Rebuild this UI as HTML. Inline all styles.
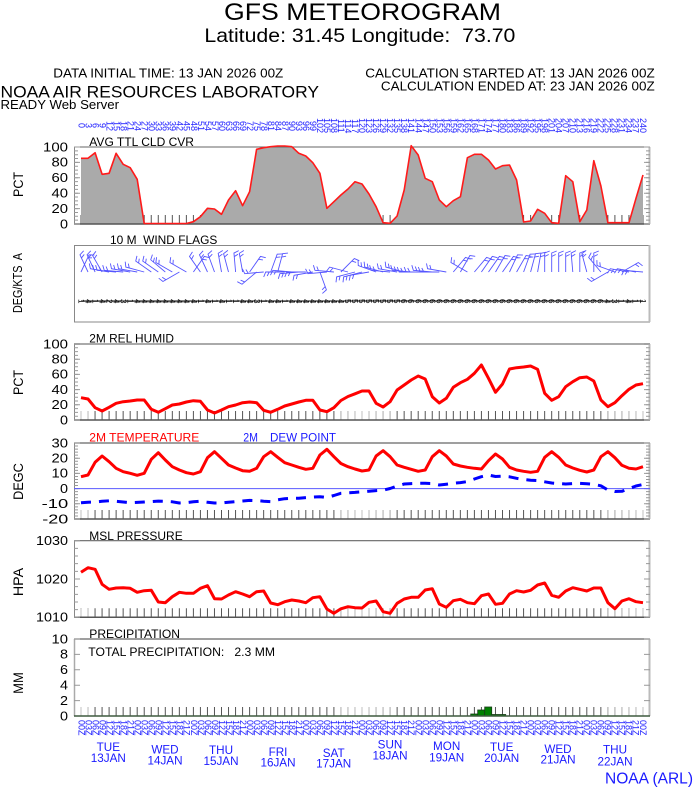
<!DOCTYPE html>
<html><head><meta charset="utf-8"><style>
html,body{margin:0;padding:0;background:#fff}
body{width:694px;height:788px;overflow:hidden;position:relative;font-family:"Liberation Sans",sans-serif}
svg{position:absolute;left:0;top:0}
.row{position:absolute;left:77.49px;display:flex}
.row span{display:block;width:7.025px;writing-mode:vertical-rl;white-space:nowrap;line-height:7px}
.top span{height:20px;text-align:center;font-size:9px;color:#2222ff}
.bot span{height:18px;text-align:start;font-size:9px;color:#2222ff}
.blk span{height:10px;text-align:center;font-size:8px;color:#000}
</style></head><body>
<svg width="694" height="788" viewBox="0 0 694 788" xmlns="http://www.w3.org/2000/svg" font-family="Liberation Sans, sans-serif">
<defs>
<path id="wb" d="M0 0V-19l5-2M0-15.5l4-2" fill="none" stroke="#5555ff" stroke-width="0.9"/>
<path id="wb2" d="M0 0V-19l-5-2M0-15.5l-4-2" fill="none" stroke="#5555ff" stroke-width="0.9"/>
</defs>

<!-- HEADER -->
<text x="224" y="20" font-size="24" textLength="277" lengthAdjust="spacingAndGlyphs">GFS METEOROGRAM</text>
<text x="204.4" y="42" font-size="19.5" textLength="311" lengthAdjust="spacingAndGlyphs" xml:space="preserve" style="white-space:pre">Latitude: 31.45 Longitude:  73.70</text>
<text x="53.3" y="77.3" font-size="12.5" textLength="230" lengthAdjust="spacingAndGlyphs">DATA INITIAL TIME: 13 JAN 2026 00Z</text>
<text x="365.3" y="77.3" font-size="12.5" textLength="289.4" lengthAdjust="spacingAndGlyphs">CALCULATION STARTED AT: 13 JAN 2026 00Z</text>
<text x="380.9" y="90.7" font-size="12.5" textLength="273.8" lengthAdjust="spacingAndGlyphs">CALCULATION ENDED AT: 23 JAN 2026 00Z</text>
<text x="0.5" y="97.3" font-size="17" textLength="318.5" lengthAdjust="spacingAndGlyphs">NOAA AIR RESOURCES LABORATORY</text>
<text x="0.5" y="109" font-size="12.5" textLength="118.5" lengthAdjust="spacingAndGlyphs">READY Web Server</text>

<!-- Y AXIS TITLES -->
<g font-size="14" text-anchor="middle">
<text transform="translate(23 184.5) rotate(-90)" textLength="25" lengthAdjust="spacingAndGlyphs">PCT</text>
<text transform="translate(22 283) rotate(-90)" font-size="12.5" textLength="60" lengthAdjust="spacingAndGlyphs" xml:space="preserve" style="white-space:pre">DEG/KTS  A</text>
<text transform="translate(23 382.5) rotate(-90)" textLength="25" lengthAdjust="spacingAndGlyphs">PCT</text>
<text transform="translate(23 481.5) rotate(-90)" textLength="36.7" lengthAdjust="spacingAndGlyphs">DEGC</text>
<text transform="translate(23 582) rotate(-90)" textLength="28.3" lengthAdjust="spacingAndGlyphs">HPA</text>
<text transform="translate(23 683) rotate(-90)" textLength="21.7" lengthAdjust="spacingAndGlyphs">MM</text>
</g>

<!-- Y TICK LABELS -->
<g font-size="12.5">
<text x="43" y="151.3" textLength="25" lengthAdjust="spacingAndGlyphs">100</text>
<text x="51.5" y="166.7" textLength="16.5" lengthAdjust="spacingAndGlyphs">80</text>
<text x="51.5" y="182.1" textLength="16.5" lengthAdjust="spacingAndGlyphs">60</text>
<text x="51.5" y="197.5" textLength="16.5" lengthAdjust="spacingAndGlyphs">40</text>
<text x="51.5" y="212.9" textLength="16.5" lengthAdjust="spacingAndGlyphs">20</text>
<text x="60" y="228.3" textLength="8" lengthAdjust="spacingAndGlyphs">0</text>

<text x="43" y="348.3" textLength="25" lengthAdjust="spacingAndGlyphs">100</text>
<text x="51.5" y="363.5" textLength="16.5" lengthAdjust="spacingAndGlyphs">80</text>
<text x="51.5" y="378.7" textLength="16.5" lengthAdjust="spacingAndGlyphs">60</text>
<text x="51.5" y="393.9" textLength="16.5" lengthAdjust="spacingAndGlyphs">40</text>
<text x="51.5" y="409.1" textLength="16.5" lengthAdjust="spacingAndGlyphs">20</text>
<text x="60" y="424.3" textLength="8" lengthAdjust="spacingAndGlyphs">0</text>

<text x="51.5" y="447.3" textLength="16.5" lengthAdjust="spacingAndGlyphs">30</text>
<text x="51.5" y="462.5" textLength="16.5" lengthAdjust="spacingAndGlyphs">20</text>
<text x="51.5" y="477.7" textLength="16.5" lengthAdjust="spacingAndGlyphs">10</text>
<text x="60" y="492.9" textLength="8" lengthAdjust="spacingAndGlyphs">0</text>
<text x="41.7" y="508.1" textLength="26.6" lengthAdjust="spacingAndGlyphs">-10</text>
<text x="42.3" y="523.3" textLength="26" lengthAdjust="spacingAndGlyphs">-20</text>

<text x="36" y="545" textLength="32" lengthAdjust="spacingAndGlyphs">1030</text>
<text x="36" y="583.3" textLength="32" lengthAdjust="spacingAndGlyphs">1020</text>
<text x="36" y="621.6" textLength="32" lengthAdjust="spacingAndGlyphs">1010</text>

<text x="51.5" y="643.3" textLength="16.5" lengthAdjust="spacingAndGlyphs">10</text>
<text x="60" y="658.7" textLength="8" lengthAdjust="spacingAndGlyphs">8</text>
<text x="60" y="674.1" textLength="8" lengthAdjust="spacingAndGlyphs">6</text>
<text x="60" y="689.5" textLength="8" lengthAdjust="spacingAndGlyphs">4</text>
<text x="60" y="704.9" textLength="8" lengthAdjust="spacingAndGlyphs">2</text>
<text x="60" y="720.3" textLength="8" lengthAdjust="spacingAndGlyphs">0</text>
</g>

<!-- ============ CLOUD PANEL ============ -->
<g fill="none">
<line x1="80.5" y1="219.5" x2="643.5" y2="219.5" stroke="#555" stroke-width="9" stroke-dasharray="1 6.025"/>
</g>
<polygon fill="#aaaaaa" points="81,224 81,158.3 88,158.3 95.1,152.7 102.1,174.3 109.1,173.3 116.1,153.3 123.2,164.3 130.2,167.7 137.2,179.3 144.2,223.5 151.3,223.5 158.3,223.5 165.3,223.5 172.3,223.5 179.4,223.5 186.4,223.5 193.4,221.7 200.4,216.7 207.5,208.3 214.5,209 221.5,214.3 228.5,200 235.6,190.7 242.6,205.7 249.6,191.7 256.6,149.3 263.7,147.7 270.7,146.7 277.7,146 284.7,146 291.8,146.7 298.8,153.3 305.8,156 312.8,162.7 319.9,173.3 326.9,208.3 333.9,201.7 340.9,195 348,189 355,181.7 362,184 369,194 376.1,206.7 383.1,222.7 390.1,223.3 397.1,216 404.2,190 411.2,145.7 418.2,155 425.2,178.3 432.3,181.7 439.3,200 446.3,206.7 453.3,200.7 460.4,196.7 467.4,157.7 474.4,154.3 481.4,154.3 488.5,160 495.5,169 502.5,165.7 509.5,165 516.6,180 523.6,222 530.6,221 537.6,209.3 544.7,213.3 551.7,222.7 558.7,223.3 565.7,175.7 572.8,181.7 579.8,221.7 586.8,210 593.8,160.7 600.9,186 607.9,222.7 614.9,222.7 621.9,222.7 629,222.7 636,198.3 643,175 643,224"/>
<g fill="none">
<line x1="74" y1="147" x2="650" y2="147" stroke="#666" stroke-width="1"/>
<line x1="74" y1="224" x2="650" y2="224" stroke="#555" stroke-width="1.5"/>
<line x1="74.5" y1="147" x2="74.5" y2="224" stroke="#888"/>
<line x1="76" y1="146.5" x2="76" y2="224.5" stroke="#999" stroke-width="4" stroke-dasharray="1 2.85"/>
<line x1="77" y1="146.5" x2="77" y2="224.5" stroke="#999" stroke-width="6" stroke-dasharray="1 14.4"/>
<line x1="649.5" y1="147" x2="649.5" y2="224" stroke="#bbb" stroke-width="2"/>
<line x1="648" y1="146.5" x2="648" y2="224.5" stroke="#999" stroke-width="4" stroke-dasharray="1 2.85"/>
<line x1="647" y1="146.5" x2="647" y2="224.5" stroke="#999" stroke-width="6" stroke-dasharray="1 14.4"/>
<polyline stroke="#ff1a1a" stroke-width="1.6" stroke-linejoin="round" points="81,158.3 88,158.3 95.1,152.7 102.1,174.3 109.1,173.3 116.1,153.3 123.2,164.3 130.2,167.7 137.2,179.3 144.2,223.5 151.3,223.5 158.3,223.5 165.3,223.5 172.3,223.5 179.4,223.5 186.4,223.5 193.4,221.7 200.4,216.7 207.5,208.3 214.5,209 221.5,214.3 228.5,200 235.6,190.7 242.6,205.7 249.6,191.7 256.6,149.3 263.7,147.7 270.7,146.7 277.7,146 284.7,146 291.8,146.7 298.8,153.3 305.8,156 312.8,162.7 319.9,173.3 326.9,208.3 333.9,201.7 340.9,195 348,189 355,181.7 362,184 369,194 376.1,206.7 383.1,222.7 390.1,223.3 397.1,216 404.2,190 411.2,145.7 418.2,155 425.2,178.3 432.3,181.7 439.3,200 446.3,206.7 453.3,200.7 460.4,196.7 467.4,157.7 474.4,154.3 481.4,154.3 488.5,160 495.5,169 502.5,165.7 509.5,165 516.6,180 523.6,222 530.6,221 537.6,209.3 544.7,213.3 551.7,222.7 558.7,223.3 565.7,175.7 572.8,181.7 579.8,221.7 586.8,210 593.8,160.7 600.9,186 607.9,222.7 614.9,222.7 621.9,222.7 629,222.7 636,198.3 643,175"/>
</g>
<text x="89.3" y="146" font-size="12" textLength="104.7" lengthAdjust="spacingAndGlyphs">AVG TTL CLD CVR</text>

<!-- ============ WIND PANEL ============ -->
<text x="110" y="244" font-size="12" textLength="107.3" lengthAdjust="spacingAndGlyphs" xml:space="preserve" style="white-space:pre">10 M  WIND FLAGS</text>
<rect x="74.5" y="245.5" width="575" height="76.5" fill="none" stroke="#888" stroke-width="1"/>
<line x1="649.5" y1="245" x2="649.5" y2="322" stroke="#bbb" stroke-width="2"/>
<line x1="81" y1="301" x2="643" y2="301" stroke="#000" stroke-width="1"/>
<g>
<use href="#wb" transform="translate(81 272) rotate(25)"/>
<use href="#wb" transform="translate(88 272) rotate(-25)"/>
<use href="#wb" transform="translate(95.1 272) rotate(-25)"/>
<use href="#wb" transform="translate(102.1 272) rotate(-30)"/>
<use href="#wb" transform="translate(109.1 272) rotate(-80)"/>
<use href="#wb" transform="translate(116.1 272) rotate(-85)"/>
<use href="#wb" transform="translate(123.2 272) rotate(-85)"/>
<use href="#wb" transform="translate(130.2 272) rotate(-80)"/>
<use href="#wb" transform="translate(137.2 272) rotate(-80)"/>
<use href="#wb" transform="translate(144.2 272) rotate(-75)"/>
<use href="#wb" transform="translate(151.3 272) rotate(-55)"/>
<use href="#wb" transform="translate(158.3 272) rotate(-55)"/>
<use href="#wb" transform="translate(165.3 272) rotate(-50)"/>
<use href="#wb" transform="translate(172.3 272) rotate(-60)"/>
<use href="#wb" transform="translate(179.4 272) rotate(-120)"/>
<use href="#wb" transform="translate(186.4 272) rotate(-60)"/>
<use href="#wb" transform="translate(193.4 272) rotate(35)"/>
<use href="#wb" transform="translate(200.4 272) rotate(-35)"/>
<use href="#wb" transform="translate(207.5 272) rotate(-25)"/>
<use href="#wb" transform="translate(214.5 272) rotate(-20)"/>
<use href="#wb" transform="translate(221.5 272) rotate(-10)"/>
<use href="#wb" transform="translate(228.5 272) rotate(-15)"/>
<use href="#wb" transform="translate(235.6 272) rotate(-5)"/>
<use href="#wb" transform="translate(242.6 272) rotate(-10)"/>
<use href="#wb" transform="translate(249.6 272) rotate(35)"/>
<use href="#wb" transform="translate(256.6 272) rotate(-130)"/>
<use href="#wb" transform="translate(263.7 272) rotate(-95)"/>
<use href="#wb" transform="translate(270.7 272) rotate(20)"/>
<use href="#wb" transform="translate(277.7 272) rotate(15)"/>
<use href="#wb2" transform="translate(284.7 272) rotate(-90)"/>
<use href="#wb2" transform="translate(291.8 272) rotate(-85)"/>
<use href="#wb2" transform="translate(298.8 272) rotate(-95)"/>
<use href="#wb2" transform="translate(305.8 272) rotate(-90)"/>
<use href="#wb2" transform="translate(312.8 272) rotate(-100)"/>
<use href="#wb" transform="translate(319.9 272) rotate(160)"/>
<use href="#wb" transform="translate(326.9 272) rotate(-95)"/>
<use href="#wb" transform="translate(333.9 272) rotate(-85)"/>
<use href="#wb" transform="translate(340.9 272) rotate(45)"/>
<use href="#wb2" transform="translate(348 272) rotate(-75)"/>
<use href="#wb2" transform="translate(355 272) rotate(-105)"/>
<use href="#wb2" transform="translate(362 272) rotate(-105)"/>
<use href="#wb2" transform="translate(369 272) rotate(-100)"/>
<use href="#wb" transform="translate(376.1 272) rotate(-70)"/>
<use href="#wb" transform="translate(383.1 272) rotate(-75)"/>
<use href="#wb" transform="translate(390.1 272) rotate(-85)"/>
<use href="#wb" transform="translate(397.1 272) rotate(-80)"/>
<use href="#wb" transform="translate(404.2 272) rotate(-75)"/>
<use href="#wb" transform="translate(411.2 272) rotate(-85)"/>
<use href="#wb" transform="translate(418.2 272) rotate(-90)"/>
<use href="#wb" transform="translate(425.2 272) rotate(-90)"/>
<use href="#wb" transform="translate(432.3 272) rotate(-85)"/>
<use href="#wb" transform="translate(439.3 272) rotate(-90)"/>
<use href="#wb" transform="translate(446.3 272) rotate(-80)"/>
<use href="#wb" transform="translate(453.3 272) rotate(40)"/>
<use href="#wb" transform="translate(460.4 272) rotate(30)"/>
<use href="#wb" transform="translate(467.4 272) rotate(-60)"/>
<use href="#wb" transform="translate(474.4 272) rotate(40)"/>
<use href="#wb" transform="translate(481.4 272) rotate(35)"/>
<use href="#wb" transform="translate(488.5 272) rotate(35)"/>
<use href="#wb" transform="translate(495.5 272) rotate(30)"/>
<use href="#wb" transform="translate(502.5 272) rotate(35)"/>
<use href="#wb" transform="translate(509.5 272) rotate(25)"/>
<use href="#wb" transform="translate(516.6 272) rotate(30)"/>
<use href="#wb" transform="translate(523.6 272) rotate(20)"/>
<use href="#wb" transform="translate(530.6 272) rotate(15)"/>
<use href="#wb" transform="translate(537.6 272) rotate(10)"/>
<use href="#wb" transform="translate(544.7 272) rotate(0)"/>
<use href="#wb" transform="translate(551.7 272) rotate(0)"/>
<use href="#wb" transform="translate(558.7 272) rotate(0)"/>
<use href="#wb" transform="translate(565.7 272) rotate(0)"/>
<use href="#wb" transform="translate(572.8 272) rotate(-5)"/>
<use href="#wb" transform="translate(579.8 272) rotate(0)"/>
<use href="#wb" transform="translate(586.8 272) rotate(-15)"/>
<use href="#wb" transform="translate(593.8 272) rotate(0)"/>
<use href="#wb" transform="translate(600.9 272) rotate(-40)"/>
<use href="#wb" transform="translate(607.9 272) rotate(-120)"/>
<use href="#wb" transform="translate(614.9 272) rotate(-70)"/>
<use href="#wb" transform="translate(621.9 272) rotate(60)"/>
<use href="#wb2" transform="translate(629 272) rotate(-80)"/>
<use href="#wb2" transform="translate(636 272) rotate(-80)"/>
<use href="#wb2" transform="translate(643 272) rotate(-85)"/>
</g>

<!-- ============ RH PANEL ============ -->
<text x="89.3" y="342.5" font-size="12" textLength="84.7" lengthAdjust="spacingAndGlyphs">2M REL HUMID</text>
<g fill="none">
<line x1="80.5" y1="415.5" x2="643.5" y2="415.5" stroke="#555" stroke-width="9" stroke-dasharray="1 6.025"/>
<line x1="80.5" y1="415.5" x2="89" y2="415.5" stroke="#c0c0c0" stroke-width="9" stroke-dasharray="1 6.025"/>
<line x1="340.43" y1="415.5" x2="391" y2="415.5" stroke="#c0c0c0" stroke-width="9" stroke-dasharray="1 6.025"/>
<line x1="607.38" y1="415.5" x2="643.5" y2="415.5" stroke="#c0c0c0" stroke-width="9" stroke-dasharray="1 6.025"/>
<line x1="74" y1="344" x2="650" y2="344" stroke="#aaa" stroke-width="2"/>
<line x1="74" y1="420" x2="650" y2="420" stroke="#555" stroke-width="1.5"/>
<line x1="74.5" y1="344" x2="74.5" y2="420" stroke="#888"/>
<line x1="76" y1="343.5" x2="76" y2="420.5" stroke="#999" stroke-width="4" stroke-dasharray="1 2.8"/>
<line x1="77" y1="343.5" x2="77" y2="420.5" stroke="#999" stroke-width="6" stroke-dasharray="1 14.2"/>
<line x1="649.5" y1="344" x2="649.5" y2="420" stroke="#bbb" stroke-width="2"/>
<line x1="648" y1="343.5" x2="648" y2="420.5" stroke="#999" stroke-width="4" stroke-dasharray="1 2.8"/>
<line x1="647" y1="343.5" x2="647" y2="420.5" stroke="#999" stroke-width="6" stroke-dasharray="1 14.2"/>
<polyline stroke="#ff0000" stroke-width="3" stroke-linejoin="round" points="81,397.7 88,399 95.1,407.7 102.1,411 109.1,407.3 116.1,403.3 123.2,401.7 130.2,401 137.2,400 144.2,400 151.3,409.3 158.3,412.3 165.3,408.7 172.3,405 179.4,404 186.4,402 193.4,400.7 200.4,401.3 207.5,410 214.5,413 221.5,410 228.5,406.7 235.6,405 242.6,402.7 249.6,402 256.6,402.7 263.7,410.3 270.7,412.3 277.7,409.3 284.7,406 291.8,404 298.8,402 305.8,400.3 312.8,400.3 319.9,410 326.9,411.7 333.9,407.7 340.9,400.5 348,396.5 355,393.8 362,391 369,391 376.1,403.3 383.1,407 390.1,401.7 397.1,390 404.2,385 411.2,380 418.2,376 425.2,379 432.3,396.7 439.3,403 446.3,398.3 453.3,387.3 460.4,382.7 467.4,379.3 474.4,373.3 481.4,365 488.5,378.3 495.5,392.3 502.5,384 509.5,369 516.6,367.7 523.6,367 530.6,366 537.6,369.3 544.7,393.3 551.7,400.3 558.7,396.7 565.7,386.7 572.8,381.7 579.8,377.7 586.8,377 593.8,381 600.9,400 607.9,406.7 614.9,402.7 621.9,395.7 629,389.3 636,385 643,383.7"/>
</g>

<!-- ============ TEMP PANEL ============ -->
<text x="89.3" y="441.5" font-size="12" fill="#ff0000" textLength="110" lengthAdjust="spacingAndGlyphs">2M TEMPERATURE</text>
<text x="243.3" y="441.5" font-size="12" fill="#1a1aff" textLength="14.7" lengthAdjust="spacingAndGlyphs">2M</text>
<text x="270" y="441.5" font-size="12" fill="#1a1aff" textLength="66" lengthAdjust="spacingAndGlyphs">DEW POINT</text>
<g fill="none">
<line x1="80.5" y1="514.5" x2="643.5" y2="514.5" stroke="#555" stroke-width="9" stroke-dasharray="1 6.025"/>
<line x1="80.5" y1="514.5" x2="89" y2="514.5" stroke="#c0c0c0" stroke-width="9" stroke-dasharray="1 6.025"/>
<line x1="340.43" y1="514.5" x2="391" y2="514.5" stroke="#c0c0c0" stroke-width="9" stroke-dasharray="1 6.025"/>
<line x1="607.38" y1="514.5" x2="643.5" y2="514.5" stroke="#c0c0c0" stroke-width="9" stroke-dasharray="1 6.025"/>
<line x1="74" y1="443" x2="650" y2="443" stroke="#666" stroke-width="1.2"/>
<line x1="74" y1="519" x2="650" y2="519" stroke="#555" stroke-width="1.5"/>
<line x1="74.5" y1="443" x2="74.5" y2="519" stroke="#888"/>
<line x1="76" y1="442.5" x2="76" y2="519.5" stroke="#999" stroke-width="4" stroke-dasharray="1 2.04"/>
<line x1="77" y1="442.5" x2="77" y2="519.5" stroke="#999" stroke-width="6" stroke-dasharray="1 14.2"/>
<line x1="649.5" y1="443" x2="649.5" y2="519" stroke="#bbb" stroke-width="2"/>
<line x1="648" y1="442.5" x2="648" y2="519.5" stroke="#999" stroke-width="4" stroke-dasharray="1 2.04"/>
<line x1="647" y1="442.5" x2="647" y2="519.5" stroke="#999" stroke-width="6" stroke-dasharray="1 14.2"/>
<line x1="74" y1="488.6" x2="650" y2="488.6" stroke="#5a5aff" stroke-width="1"/>
<polyline stroke="#ff0000" stroke-width="3" stroke-linejoin="round" points="81,476.7 88,475 95.1,462.3 102.1,456 109.1,461.7 116.1,468.3 123.2,471.7 130.2,473.3 137.2,475.3 144.2,473.3 151.3,459.3 158.3,452.7 165.3,460 172.3,466.7 179.4,470 186.4,472.7 193.4,474 200.4,471.7 207.5,457.7 214.5,451.7 221.5,458.3 228.5,465 235.6,468 242.6,470.7 249.6,471.3 256.6,468.3 263.7,456.7 270.7,451.7 277.7,457.3 284.7,462.7 291.8,465 298.8,467.3 305.8,469.3 312.8,468.3 319.9,455 326.9,449.3 333.9,456.7 340.9,463.5 348,466.7 355,469 362,471 369,470 376.1,456 383.1,450.7 390.1,456.7 397.1,465 404.2,467.3 411.2,469.3 418.2,471.3 425.2,470 432.3,456.7 439.3,450.7 446.3,456 453.3,464 460.4,466 467.4,467.3 474.4,468.3 481.4,469 488.5,460.7 495.5,454 502.5,459 509.5,467.3 516.6,470 523.6,471.3 530.6,472.3 537.6,471.3 544.7,457.3 551.7,451.7 558.7,457.3 565.7,465 572.8,468 579.8,470.3 586.8,472 593.8,470 600.9,456.7 607.9,451.7 614.9,457.7 621.9,465.3 629,468.3 636,469 643,466.7"/>
<polyline stroke="#0000ff" stroke-width="3" stroke-dasharray="10 8" stroke-linejoin="round" points="81,502.7 88,502.2 95.1,502 102.1,501.3 109.1,500.8 116.1,501.3 123.2,502 130.2,502.7 137.2,502.4 144.2,502 151.3,501.6 158.3,501.1 165.3,501.3 172.3,501.8 179.4,503 186.4,502.6 193.4,501.8 200.4,501.3 207.5,502.3 214.5,503 221.5,503 228.5,502.2 235.6,501.6 242.6,501 249.6,500.4 256.6,500.6 263.7,501.2 270.7,501.6 277.7,499.8 284.7,498.7 291.8,498.3 298.8,498.3 305.8,497.6 312.8,497.1 319.9,496.7 326.9,497.5 333.9,495.5 340.9,493.3 348,492.8 355,492.4 362,491.8 369,491.2 376.1,490.6 383.1,490.2 390.1,488.5 397.1,486 404.2,484 411.2,483.6 418.2,483.3 425.2,483.3 432.3,483.5 439.3,485 446.3,484.2 453.3,483.3 460.4,482.6 467.4,481.6 474.4,479 481.4,476.7 488.5,475 495.5,476.5 502.5,476.2 509.5,476.8 516.6,478.3 523.6,479.5 530.6,480.2 537.6,480.6 544.7,481.8 551.7,483 558.7,483.6 565.7,484 572.8,483.6 579.8,483.3 586.8,483.7 593.8,484.3 600.9,485.8 607.9,490 614.9,491.5 621.9,491.3 629,488.6 636,486 643,484.5"/>
</g>

<!-- ============ PRESSURE PANEL ============ -->
<text x="89.3" y="540" font-size="12" textLength="93.4" lengthAdjust="spacingAndGlyphs">MSL PRESSURE</text>
<g fill="none">
<line x1="80.5" y1="612.8" x2="643.5" y2="612.8" stroke="#555" stroke-width="9" stroke-dasharray="1 6.025"/>
<line x1="80.5" y1="612.8" x2="89" y2="612.8" stroke="#c0c0c0" stroke-width="9" stroke-dasharray="1 6.025"/>
<line x1="340.43" y1="612.8" x2="391" y2="612.8" stroke="#c0c0c0" stroke-width="9" stroke-dasharray="1 6.025"/>
<line x1="607.38" y1="612.8" x2="643.5" y2="612.8" stroke="#c0c0c0" stroke-width="9" stroke-dasharray="1 6.025"/>
<line x1="74" y1="540.7" x2="650" y2="540.7" stroke="#666" stroke-width="1.2"/>
<line x1="74" y1="617.3" x2="650" y2="617.3" stroke="#555" stroke-width="1.5"/>
<line x1="74.5" y1="540.7" x2="74.5" y2="617.3" stroke="#888"/>
<line x1="76" y1="540.2" x2="76" y2="617.8" stroke="#999" stroke-width="4" stroke-dasharray="1 6.66"/>
<line x1="77" y1="540.2" x2="77" y2="617.8" stroke="#999" stroke-width="6" stroke-dasharray="1 37.3"/>
<line x1="649.5" y1="540.7" x2="649.5" y2="617.3" stroke="#bbb" stroke-width="2"/>
<line x1="648" y1="540.2" x2="648" y2="617.8" stroke="#999" stroke-width="4" stroke-dasharray="1 6.66"/>
<line x1="647" y1="540.2" x2="647" y2="617.8" stroke="#999" stroke-width="6" stroke-dasharray="1 37.3"/>
<polyline stroke="#ff0000" stroke-width="3" stroke-linejoin="round" points="81,572.3 88,567.7 95.1,569.3 102.1,584.3 109.1,589.3 116.1,588 123.2,587.7 130.2,588.3 137.2,592.3 144.2,590.7 151.3,590.3 158.3,602 165.3,602.7 172.3,596.7 179.4,592.3 186.4,593.3 193.4,593.3 200.4,588.3 207.5,585.7 214.5,598.7 221.5,599 228.5,595 235.6,591.7 242.6,594 249.6,596.7 256.6,591.7 263.7,591 270.7,603 277.7,604.7 284.7,601.7 291.8,600 298.8,601 305.8,602.7 312.8,597.7 319.9,596.7 326.9,609 333.9,613.3 340.9,608.8 348,606.7 355,607.7 362,608 369,602.3 376.1,601 383.1,611.7 390.1,613.3 397.1,603.3 404.2,599 411.2,597.3 418.2,597.3 425.2,590 432.3,588.7 439.3,604 446.3,607.3 453.3,600.7 460.4,599.3 467.4,602.7 474.4,603.7 481.4,595.7 488.5,594 495.5,604.3 502.5,603.3 509.5,594 516.6,590.7 523.6,592 530.6,590.3 537.6,585 544.7,583 551.7,595.3 558.7,597.3 565.7,591 572.8,587.7 579.8,589.3 586.8,591 593.8,588 600.9,588 607.9,602.7 614.9,608.7 621.9,601 629,598.7 636,601.7 643,602.7"/>
</g>

<!-- ============ PRECIP PANEL ============ -->
<text x="89.3" y="638" font-size="12" textLength="90.7" lengthAdjust="spacingAndGlyphs">PRECIPITATION</text>
<text x="88.3" y="656" font-size="12" textLength="186.7" lengthAdjust="spacingAndGlyphs" xml:space="preserve" style="white-space:pre">TOTAL PRECIPITATION:   2.3 MM</text>
<g fill="none">
<line x1="80.5" y1="711.5" x2="643.5" y2="711.5" stroke="#555" stroke-width="9" stroke-dasharray="1 6.025"/>
<line x1="80.5" y1="711.5" x2="89" y2="711.5" stroke="#c0c0c0" stroke-width="9" stroke-dasharray="1 6.025"/>
<line x1="340.43" y1="711.5" x2="391" y2="711.5" stroke="#c0c0c0" stroke-width="9" stroke-dasharray="1 6.025"/>
<line x1="607.38" y1="711.5" x2="643.5" y2="711.5" stroke="#c0c0c0" stroke-width="9" stroke-dasharray="1 6.025"/>
<line x1="74" y1="639" x2="650" y2="639" stroke="#666" stroke-width="1.2"/>
<line x1="74.5" y1="639" x2="74.5" y2="716" stroke="#aaa" stroke-width="1.5"/>
<line x1="77" y1="638.5" x2="77" y2="716.5" stroke="#999" stroke-width="6" stroke-dasharray="1 14.4"/>
<line x1="649.5" y1="639" x2="649.5" y2="716" stroke="#bbb" stroke-width="2"/>
<line x1="647" y1="638.5" x2="647" y2="716.5" stroke="#999" stroke-width="6" stroke-dasharray="1 14.4"/>
</g>
<g fill="#008000" stroke="#1a3a1a" stroke-width="0.8">
<rect x="470.7" y="714" width="7" height="2"/>
<rect x="477.7" y="710" width="7" height="6"/>
<rect x="484.7" y="707" width="7" height="9"/>
<rect x="491.7" y="714.5" width="14" height="1.5"/>
</g>
<line x1="74" y1="716" x2="650" y2="716" stroke="#3f5a3f" stroke-width="1.6"/>

<!-- DAY LABELS -->
<g font-size="11.7" fill="#1a1aff" text-anchor="middle">
<text x="108.3" y="751">TUE</text><text x="108.3" y="762">13JAN</text>
<text x="165" y="753.3">WED</text><text x="165" y="764.3">14JAN</text>
<text x="221" y="754">THU</text><text x="221" y="765">15JAN</text>
<text x="278" y="756">FRI</text><text x="278" y="766.3">16JAN</text>
<text x="333.7" y="757">SAT</text><text x="333.7" y="767.6">17JAN</text>
<text x="390" y="748.6">SUN</text><text x="390" y="759.3">18JAN</text>
<text x="446.7" y="750">MON</text><text x="446.7" y="761.3">19JAN</text>
<text x="501.7" y="751">TUE</text><text x="501.7" y="762">20JAN</text>
<text x="558" y="753">WED</text><text x="558" y="763.6">21JAN</text>
<text x="615" y="753.6">THU</text><text x="615" y="765.3">22JAN</text>
</g>
<text x="605" y="783.5" font-size="15.8" fill="#1a1aff" textLength="88" lengthAdjust="spacingAndGlyphs">NOAA (ARL)</text>
</svg>

<div class="row top" style="top:116px"><span>0</span><span>3</span><span>6</span><span>9</span><span>12</span><span>15</span><span>18</span><span>21</span><span>24</span><span>27</span><span>30</span><span>33</span><span>36</span><span>39</span><span>42</span><span>45</span><span>48</span><span>51</span><span>54</span><span>57</span><span>60</span><span>63</span><span>66</span><span>69</span><span>72</span><span>75</span><span>78</span><span>81</span><span>84</span><span>87</span><span>90</span><span>93</span><span>96</span><span>99</span><span>102</span><span>105</span><span>108</span><span>111</span><span>114</span><span>117</span><span>120</span><span>123</span><span>126</span><span>129</span><span>132</span><span>135</span><span>138</span><span>141</span><span>144</span><span>147</span><span>150</span><span>153</span><span>156</span><span>159</span><span>162</span><span>165</span><span>168</span><span>171</span><span>174</span><span>177</span><span>180</span><span>183</span><span>186</span><span>189</span><span>192</span><span>195</span><span>198</span><span>201</span><span>204</span><span>207</span><span>210</span><span>213</span><span>216</span><span>219</span><span>222</span><span>225</span><span>228</span><span>231</span><span>234</span><span>237</span><span>240</span></div>

<div class="row blk" style="top:296px"><span>1</span><span>4</span><span>1</span><span>4</span><span>2</span><span>4</span><span>3</span><span>1</span><span>4</span><span>4</span><span>4</span><span>4</span><span>4</span><span>4</span><span>4</span><span>4</span><span>4</span><span>1</span><span>4</span><span>1</span><span>4</span><span>1</span><span>1</span><span>4</span><span>4</span><span>3</span><span>1</span><span>4</span><span>4</span><span>1</span><span>4</span><span>4</span><span>4</span><span>4</span><span>4</span><span>4</span><span>4</span><span>4</span><span>5</span><span>5</span><span>5</span><span>5</span><span>5</span><span>5</span><span>5</span><span>5</span><span>6</span><span>6</span><span>6</span><span>6</span><span>6</span><span>6</span><span>6</span><span>6</span><span>6</span><span>6</span><span>6</span><span>6</span><span>6</span><span>6</span><span>6</span><span>6</span><span>6</span><span>6</span><span>6</span><span>6</span><span>6</span><span>6</span><span>6</span><span>6</span><span>6</span><span>6</span><span>6</span><span>6</span><span>6</span><span>4</span><span>3</span><span>1</span><span>4</span><span>1</span><span>1</span></div>

<div class="row bot" style="top:720px"><span>00Z</span><span>03Z</span><span>06Z</span><span>09Z</span><span>12Z</span><span>15Z</span><span>18Z</span><span>21Z</span><span>00Z</span><span>03Z</span><span>06Z</span><span>09Z</span><span>12Z</span><span>15Z</span><span>18Z</span><span>21Z</span><span>00Z</span><span>03Z</span><span>06Z</span><span>09Z</span><span>12Z</span><span>15Z</span><span>18Z</span><span>21Z</span><span>00Z</span><span>03Z</span><span>06Z</span><span>09Z</span><span>12Z</span><span>15Z</span><span>18Z</span><span>21Z</span><span>00Z</span><span>03Z</span><span>06Z</span><span>09Z</span><span>12Z</span><span>15Z</span><span>18Z</span><span>21Z</span><span>00Z</span><span>03Z</span><span>06Z</span><span>09Z</span><span>12Z</span><span>15Z</span><span>18Z</span><span>21Z</span><span>00Z</span><span>03Z</span><span>06Z</span><span>09Z</span><span>12Z</span><span>15Z</span><span>18Z</span><span>21Z</span><span>00Z</span><span>03Z</span><span>06Z</span><span>09Z</span><span>12Z</span><span>15Z</span><span>18Z</span><span>21Z</span><span>00Z</span><span>03Z</span><span>06Z</span><span>09Z</span><span>12Z</span><span>15Z</span><span>18Z</span><span>21Z</span><span>00Z</span><span>03Z</span><span>06Z</span><span>09Z</span><span>12Z</span><span>15Z</span><span>18Z</span><span>21Z</span><span>00Z</span></div>
</body></html>
